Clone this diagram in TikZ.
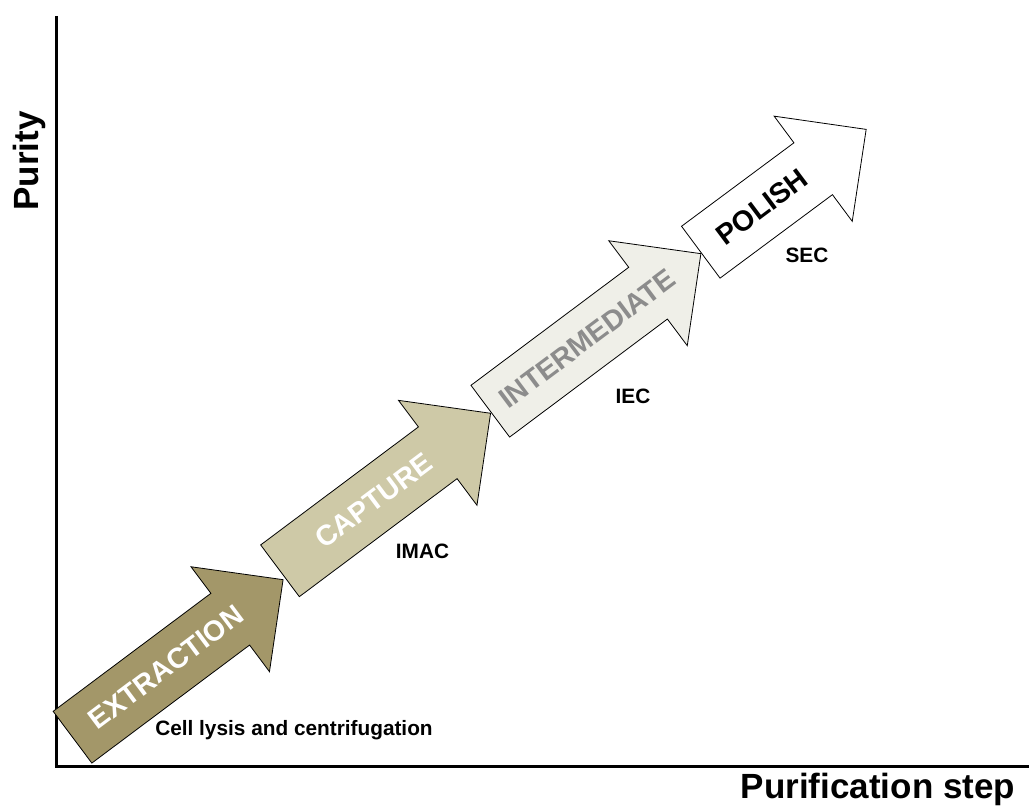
\documentclass[tikz,border=0pt]{standalone}
\usepackage{fontspec}
\setmainfont{Liberation Sans}
\usepackage{xcolor}
\usepackage{tikz}
\usetikzlibrary{positioning}

\definecolor{extractfill}{RGB}{163,151,105}
\definecolor{capturefill}{RGB}{206,201,167}
\definecolor{interfill}{RGB}{239,239,232}
\definecolor{intertext}{RGB}{140,140,140}

\begin{document}
\begin{tikzpicture}[
    % Đơn vị: 1pt cho mỗi điểm ảnh, trục y hướng xuống
    x=1pt, y=-1pt,
    % Trục tọa độ (đen, dày)
    axis/.style={draw, line width=3pt, line join=miter},
    % Mũi tên khối cho từng bước
    stagearrow/.style={draw, line width=0.8pt, line join=miter},
    % Chữ bên trong mũi tên (nghiêng theo mũi tên)
    stagetext/.style={font=\bfseries\fontsize{28.5}{32}\selectfont, rotate=36.8, inner sep=0pt},
    % Chữ phương pháp dưới mỗi mũi tên
    methodtext/.style={font=\bfseries\fontsize{20.8}{24}\selectfont, inner sep=0pt, anchor=base},
    % Chữ tên trục
    axistext/.style={font=\bfseries\fontsize{35}{40}\selectfont, inner sep=0pt}
]
\useasboundingbox (0,0) rectangle (1029,808);

% Trục tọa độ
\coordinate (ytop) at (56,16);
\coordinate (origin) at (56,766.5);
\coordinate (xend) at (1029,766.5);
\draw[axis] (ytop) -- (origin) -- (xend);

% Tên trục
\node[axistext, rotate=90] (purity) at (29,161) {Purity};
\node[axistext, anchor=base] (stepname) at (878,798) {Purification step};

% Mũi tên 1: EXTRACTION
\begin{scope}[shift={(72.5,737.2)}, rotate=36.8]
    \draw[stagearrow, fill=extractfill] (0,-32.3) -- (197,-32.3) -- (197,-65.5) -- (263,0)
        -- (197,65.5) -- (197,32.3) -- (0,32.3) -- cycle;
    \node[stagetext, text=white] (extract) at (117,0) {EXTRACTION};
\end{scope}

% Mũi tên 2: CAPTURE
\begin{scope}[shift={(280,570.8)}, rotate=36.8]
    \draw[stagearrow, fill=capturefill] (0,-32.3) -- (197,-32.3) -- (197,-65.5) -- (263,0)
        -- (197,65.5) -- (197,32.3) -- (0,32.3) -- cycle;
    \node[stagetext, text=white] (capture) at (117,0) {CAPTURE};
\end{scope}

% Mũi tên 3: INTERMEDIATE
\begin{scope}[shift={(490.3,411.2)}, rotate=36.8]
    \draw[stagearrow, fill=interfill] (0,-32.3) -- (197,-32.3) -- (197,-65.5) -- (263,0)
        -- (197,65.5) -- (197,32.3) -- (0,32.3) -- cycle;
    \node[stagetext, text=intertext] (inter) at (121,0) {INTERMEDIATE};
\end{scope}

% Mũi tên 4: POLISH (ngắn hơn)
\begin{scope}[shift={(700.8,252.2)}, rotate=36.6]
    \draw[stagearrow, fill=white] (0,-32.3) -- (140,-32.3) -- (140,-65.5) -- (206,0)
        -- (140,65.5) -- (140,32.3) -- (0,32.3) -- cycle;
    \node[stagetext, text=black] (polish) at (76,0) {POLISH};
\end{scope}

% Phương pháp dưới mỗi bước
\node[methodtext] (lysis) at (294,735) {Cell lysis and centrifugation};
\node[methodtext] (imac) at (422.5,558.3) {IMAC};
\node[methodtext] (iec) at (633,403.3) {IEC};
\node[methodtext] (sec) at (807,262.3) {SEC};

\end{tikzpicture}
\end{document}
